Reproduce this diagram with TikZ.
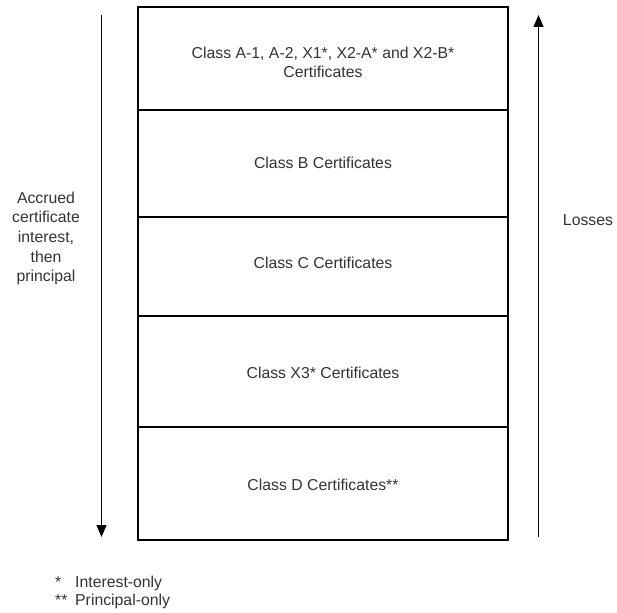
\documentclass[tikz,border=0pt]{standalone}
\usepackage{fontspec}
\setmainfont{Liberation Sans}
\usetikzlibrary{arrows.meta}
\usetikzlibrary{positioning}
\tikzset{
  every picture/.style={/utils/exec={\fontsize{15.8}{19.7}\selectfont}},
  tranche/.style={draw, line width=1.2pt, minimum width=370pt, inner sep=0pt},
  label text/.style={align=center, text=black!80, inner sep=0pt},
  flow/.style={line width=1.3pt, -{Triangle[width=10pt,length=12pt]}}
}

\begin{document}
\begin{tikzpicture}[x=1pt,y=-1pt]
  \useasboundingbox (0,0) rectangle (617,612);

  % the certificate stack
  \node [tranche, minimum height=103pt,
    label={[label text, yshift=-4pt]center:{Class A-1, A-2, X1*, X2-A* and X2-B*\\Certificates}}]
    (classA) at (323,58.5) {};
  \node [tranche, minimum height=107pt,
    label={[label text, yshift=1pt]center:Class B Certificates}] (classB) at (323,163.5) {};
  \node [tranche, minimum height=99pt,
    label={[label text, yshift=4pt]center:Class C Certificates}] (classC) at (323,266.5) {};
  \node [tranche, minimum height=111pt,
    label={[label text, yshift=-1.5pt]center:Class X3* Certificates}] (classX) at (323,371.5) {};
  \node [tranche, minimum height=113pt,
    label={[label text, yshift=-1.5pt]center:Class D Certificates**}] (classD) at (323,483.5) {};

  % payments downward, losses upward
  \coordinate (paytop) at (101.5,15);
  \coordinate (paybot) at (101.5,537);
  \coordinate (lossbot) at (538.5,537);
  \coordinate (losstop) at (538.5,15);
  \draw [flow] (paytop) -- (paybot);
  \draw [flow] (lossbot) -- (losstop);

  \node [label text] (paylabel) at (46,238.5)
    {Accrued\\certificate\\interest,\\then\\principal};
  \node [label text] (losslabel) at (588,220) {Losses};

  % footnotes
  \node [label text, anchor=base west] (fnmarkA) at (55,587) {*};
  \node [label text, anchor=base west] (fntextA) at (75,587) {Interest-only};
  \node [label text, anchor=base west] (fnmarkB) at (55,605) {**};
  \node [label text, anchor=base west] (fntextB) at (75,605) {Principal-only};
\end{tikzpicture}
\end{document}
